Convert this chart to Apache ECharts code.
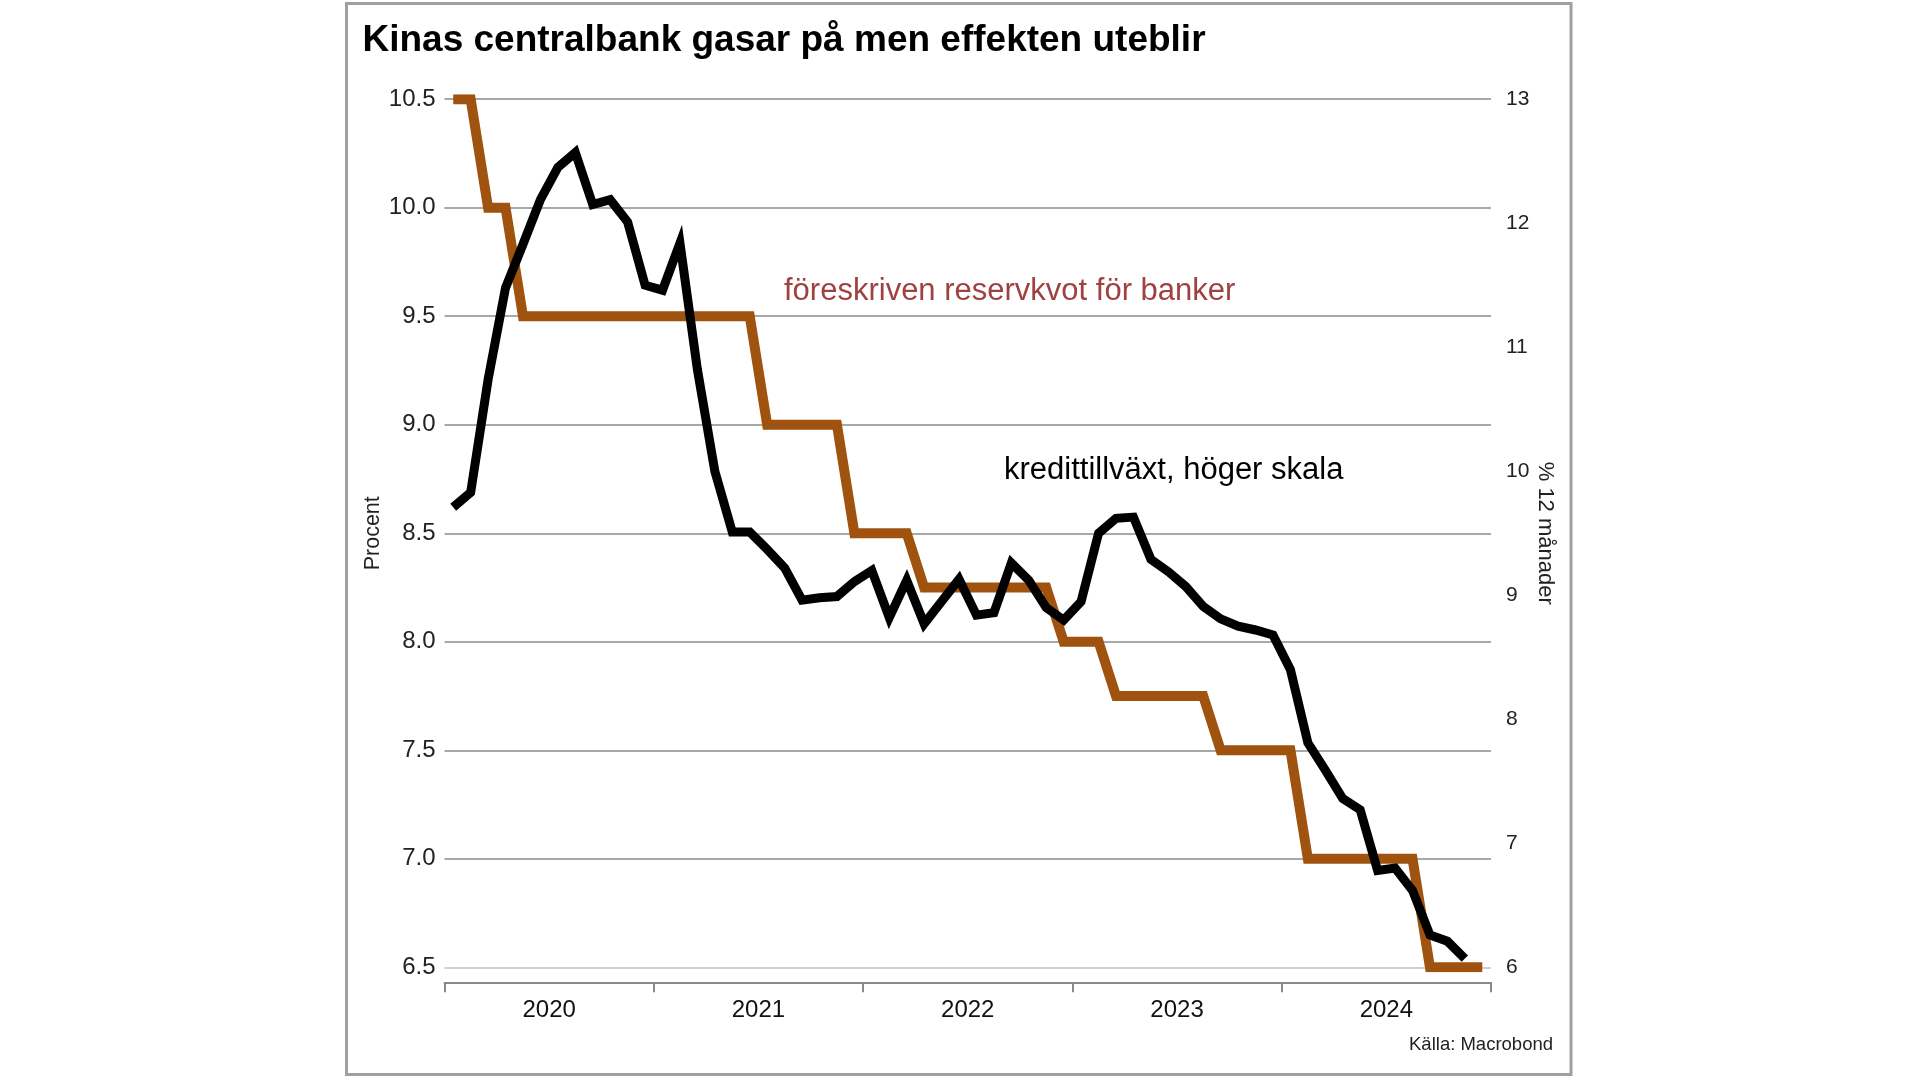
<!DOCTYPE html>
<html>
<head>
<meta charset="utf-8">
<script src="https://cdn.jsdelivr.net/npm/echarts@6/dist/echarts.min.js"></script>
<style>
html,body{margin:0;padding:0;background:#fff;}
#c{width:1920px;height:1080px;}
</style>
</head>
<body>
<div id="c"></div>
<script>
// Months Jan 2020 .. Dec 2024
var months = [];
for (var y = 2020; y <= 2024; y++) { for (var mo = 1; mo <= 12; mo++) { months.push(y + '-' + (mo < 10 ? '0' + mo : mo)); } }
var yearLabels = ['2020', '2021', '2022', '2023', '2024'];
var leftTicks = [6.5, 7.0, 7.5, 8.0, 8.5, 9.0, 9.5, 10.0, 10.5];
var rightTicks = [6, 7, 8, 9, 10, 11, 12, 13];

// föreskriven reservkvot för banker (left scale, %)
var reserveRatio = [
  10.5, 10.5, 10.0, 10.0, 9.5, 9.5, 9.5, 9.5, 9.5, 9.5, 9.5, 9.5,
  9.5, 9.5, 9.5, 9.5, 9.5, 9.5, 9.0, 9.0, 9.0, 9.0, 9.0, 8.5,
  8.5, 8.5, 8.5, 8.25, 8.25, 8.25, 8.25, 8.25, 8.25, 8.25, 8.25, 8.0,
  8.0, 8.0, 7.75, 7.75, 7.75, 7.75, 7.75, 7.75, 7.5, 7.5, 7.5, 7.5,
  7.5, 7.0, 7.0, 7.0, 7.0, 7.0, 7.0, 7.0, 6.5, 6.5, 6.5, 6.5
];
// kredittillväxt, % 12 månader (right scale)
var creditGrowth = [
  9.71, 9.83, 10.74, 11.48, 11.83, 12.19, 12.45, 12.57, 12.15, 12.19, 12.01, 11.50,
  11.46, 11.84, 10.82, 10.00, 9.51, 9.51, 9.37, 9.22, 8.96, 8.98, 8.99, 9.11,
  9.20, 8.82, 9.12, 8.77, 8.95, 9.13, 8.84, 8.86, 9.26, 9.12, 8.90, 8.80,
  8.95, 9.50, 9.62, 9.63, 9.29, 9.19, 9.07, 8.91, 8.81, 8.75, 8.72, 8.68,
  8.40, 7.81, 7.59, 7.36, 7.27, 6.78, 6.80, 6.62, 6.26, 6.21, 6.07
];

function toPairs(vals) {
  return vals.map(function (v, i) { return [i + 0.5, v]; });
}
var yearTickPos = yearLabels.map(function (y, i) { return i * 12; }).concat([months.length]);
var yearLabelPos = yearLabels.map(function (y, i) { return i * 12 + 6; });

var FONT = 'Arial, "Liberation Sans", Helvetica, sans-serif';
var chart = echarts.init(document.getElementById('c'), null, {renderer: 'canvas'});
chart.setOption({
  animation: false,
  backgroundColor: '#fff',
  title: {
    text: 'Kinas centralbank gasar på men effekten uteblir',
    left: 357.5, top: 17.5,
    textStyle: {fontFamily: FONT, fontSize: 37, fontWeight: 'bold', color: '#000'}
  },
  grid: {left: 444.5, right: 429, top: 99.2, bottom: 112.7, containLabel: false},
  xAxis: {
    type: 'value', min: 0, max: months.length,
    offset: 15,
    splitLine: {show: false},
    axisLine: {show: true, lineStyle: {color: '#8a8a8a', width: 2}},
    axisTick: {show: true, length: 10, customValues: yearTickPos, lineStyle: {color: '#8a8a8a', width: 2}},
    axisLabel: {
      customValues: yearLabelPos, margin: 16,
      fontFamily: FONT, fontSize: 24, color: '#111',
      formatter: function (v) { return yearLabels[Math.round((v - 6) / 12)] || ''; }
    }
  },
  yAxis: [{
    type: 'value', min: 6.5, max: 10.5, interval: 0.5, position: 'left',
    name: 'Procent', nameLocation: 'middle', nameGap: 60, nameRotate: 90, nameMoveOverlap: false,
    nameTextStyle: {fontFamily: FONT, fontSize: 21.5, color: '#222'},
    axisLine: {show: false}, axisTick: {show: false},
    axisLabel: {margin: 9, fontFamily: FONT, fontSize: 24, color: '#222',
      formatter: function (v) { return v.toFixed(1); }},
    splitLine: {show: true, lineStyle: {color: ['#d0d0d0', '#a8a8a8', '#a8a8a8', '#a8a8a8', '#a8a8a8', '#a8a8a8', '#a8a8a8', '#a8a8a8', '#a8a8a8'], width: 2}}
  }, {
    type: 'value', min: 6, max: 13, interval: 1, position: 'right',
    name: '% 12 månader', nameLocation: 'middle', nameGap: 43, nameRotate: -90, nameMoveOverlap: false,
    nameTextStyle: {fontFamily: FONT, fontSize: 22, color: '#222'},
    axisLine: {show: false}, axisTick: {show: false},
    axisLabel: {margin: 15, fontFamily: FONT, fontSize: 21, color: '#222'},
    splitLine: {show: false}
  }],
  series: [{
    name: 'föreskriven reservkvot för banker',
    type: 'line', yAxisIndex: 0, symbol: 'none',
    data: toPairs(reserveRatio),
    lineStyle: {color: '#a0520f', width: 10, join: 'miter', cap: 'butt'},
    z: 2
  }, {
    name: 'kredittillväxt, höger skala',
    type: 'line', yAxisIndex: 1, symbol: 'none',
    data: toPairs(creditGrowth),
    lineStyle: {color: '#000', width: 9, join: 'miter', cap: 'butt'},
    z: 3
  }],
  graphic: [
    {type: 'rect', shape: {x: 346.5, y: 3.5, width: 1224.5, height: 1071}, style: {fill: 'none', stroke: '#a0a0a0', lineWidth: 3}, silent: true, z: -1},
    {type: 'text', x: 784, y: 291, style: {text: 'föreskriven reservkvot för banker', fill: '#a04141', font: '31px ' + FONT, textVerticalAlign: 'middle', textAlign: 'left'}},
    {type: 'text', x: 1004, y: 470, style: {text: 'kredittillväxt, höger skala', fill: '#000', font: '31px ' + FONT, textVerticalAlign: 'middle', textAlign: 'left'}},
    {type: 'text', x: 1553, y: 1045, style: {text: 'Källa: Macrobond', fill: '#222', font: '18.5px ' + FONT, textVerticalAlign: 'middle', textAlign: 'right'}}
  ]
});
</script>
</body>
</html>
